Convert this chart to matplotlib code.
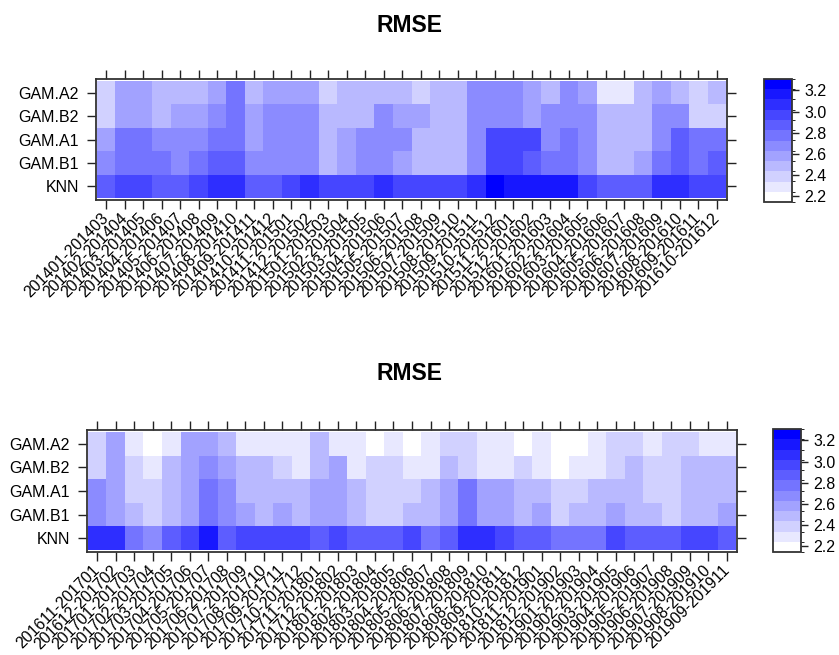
import numpy as np
import matplotlib
matplotlib.use("Agg")
import matplotlib.pyplot as plt
import matplotlib as mpl
from matplotlib.colors import ListedColormap, BoundaryNorm

plt.rcParams['font.family'] = ['Liberation Sans', 'DejaVu Sans']

# ---------------- data ----------------
row_names = ['KNN', 'GAM.B1', 'GAM.A1', 'GAM.B2', 'GAM.A2']  # bottom -> top

top_labels = ["201401-201403", "201402-201404", "201403-201405", "201404-201406",
              "201405-201407", "201406-201408", "201407-201409", "201408-201410",
              "201409-201411", "201410-201412", "201411-201501", "201412-201502",
              "201501-201503", "201502-201504", "201503-201505", "201504-201506",
              "201505-201507", "201506-201508", "201507-201509", "201508-201510",
              "201509-201511", "201510-201512", "201511-201601", "201512-201602",
              "201601-201603", "201602-201604", "201603-201605", "201604-201606",
              "201605-201607", "201606-201608", "201607-201609", "201608-201610",
              "201609-201611", "201610-201612"]

top_gam_a2 = [2.39, 2.58, 2.58, 2.48, 2.48, 2.48, 2.58, 2.78, 2.48, 2.58,
              2.58, 2.58, 2.39, 2.48, 2.48, 2.48, 2.48, 2.39, 2.48, 2.48,
              2.68, 2.68, 2.68, 2.58, 2.48, 2.68, 2.58, 2.29, 2.29, 2.48,
              2.58, 2.48, 2.39, 2.48]
top_gam_b2 = [2.39, 2.58, 2.58, 2.48, 2.58, 2.58, 2.68, 2.78, 2.58, 2.68,
              2.68, 2.68, 2.48, 2.48, 2.48, 2.68, 2.58, 2.58, 2.48, 2.48,
              2.68, 2.68, 2.68, 2.58, 2.68, 2.68, 2.68, 2.48, 2.48, 2.48,
              2.68, 2.68, 2.39, 2.39]
top_gam_a1 = [2.58, 2.78, 2.78, 2.68, 2.68, 2.68, 2.78, 2.78, 2.58, 2.68,
              2.68, 2.68, 2.48, 2.58, 2.68, 2.68, 2.68, 2.48, 2.48, 2.48,
              2.68, 2.97, 2.97, 2.97, 2.68, 2.78, 2.68, 2.48, 2.48, 2.48,
              2.68, 2.87, 2.78, 2.78]
top_gam_b1 = [2.68, 2.78, 2.78, 2.78, 2.68, 2.78, 2.87, 2.87, 2.68, 2.68,
              2.68, 2.68, 2.48, 2.58, 2.68, 2.68, 2.58, 2.48, 2.48, 2.48,
              2.68, 2.97, 2.97, 2.87, 2.78, 2.78, 2.68, 2.48, 2.48, 2.58,
              2.78, 2.87, 2.78, 2.87]
top_knn = [2.87, 2.97, 2.97, 2.87, 2.87, 2.97, 3.07, 3.07, 2.87, 2.87,
           2.97, 3.07, 2.97, 2.97, 2.97, 3.07, 2.97, 2.97, 2.97, 2.97,
           3.07, 3.26, 3.16, 3.16, 3.16, 3.16, 2.97, 2.87, 2.87, 2.87,
           3.07, 3.07, 2.97, 2.97]

bot_labels = ["201611-201701", "201612-201702", "201701-201703", "201702-201704",
              "201703-201705", "201704-201706", "201705-201707", "201706-201708",
              "201707-201709", "201708-201710", "201709-201711", "201710-201712",
              "201711-201801", "201712-201802", "201801-201803", "201802-201804",
              "201803-201805", "201804-201806", "201805-201807", "201806-201808",
              "201807-201809", "201808-201810", "201809-201811", "201810-201812",
              "201811-201901", "201812-201902", "201901-201903", "201902-201904",
              "201903-201905", "201904-201906", "201905-201907", "201906-201908",
              "201907-201909", "201908-201910", "201909-201911"]

bot_gam_a2 = [2.39, 2.58, 2.29, 2.19, 2.29, 2.58, 2.58, 2.48, 2.29, 2.29,
              2.29, 2.29, 2.48, 2.29, 2.29, 2.19, 2.29, 2.19, 2.29, 2.39,
              2.39, 2.29, 2.29, 2.19, 2.29, 2.19, 2.19, 2.29, 2.39, 2.39,
              2.29, 2.39, 2.39, 2.29, 2.29]
bot_gam_b2 = [2.39, 2.58, 2.39, 2.29, 2.48, 2.58, 2.68, 2.58, 2.48, 2.48,
              2.39, 2.29, 2.48, 2.58, 2.29, 2.39, 2.39, 2.29, 2.29, 2.48,
              2.39, 2.29, 2.29, 2.39, 2.29, 2.19, 2.29, 2.29, 2.39, 2.48,
              2.39, 2.39, 2.48, 2.48, 2.48]
bot_gam_a1 = [2.68, 2.58, 2.39, 2.39, 2.48, 2.58, 2.78, 2.68, 2.48, 2.48,
              2.48, 2.48, 2.58, 2.58, 2.48, 2.39, 2.39, 2.39, 2.48, 2.58,
              2.78, 2.58, 2.58, 2.48, 2.48, 2.39, 2.39, 2.48, 2.48, 2.48,
              2.39, 2.39, 2.48, 2.48, 2.48]
bot_gam_b1 = [2.68, 2.58, 2.48, 2.39, 2.48, 2.58, 2.78, 2.68, 2.58, 2.48,
              2.58, 2.48, 2.58, 2.58, 2.48, 2.39, 2.39, 2.48, 2.48, 2.58,
              2.78, 2.58, 2.58, 2.48, 2.58, 2.39, 2.48, 2.48, 2.58, 2.48,
              2.48, 2.39, 2.48, 2.48, 2.58]
bot_knn = [3.07, 3.07, 2.78, 2.68, 2.87, 2.97, 3.16, 2.87, 2.97, 2.97,
           2.97, 2.97, 2.87, 2.97, 2.87, 2.87, 2.87, 2.97, 2.78, 2.87,
           3.07, 3.07, 2.97, 2.87, 2.87, 2.78, 2.78, 2.78, 2.97, 2.87,
           2.87, 2.87, 2.97, 2.97, 2.87]

cbar_ticks = [2.2, 2.4, 2.6, 2.8, 3.0, 3.2]
level_bounds = np.linspace(2.146, 3.308, 13)

# ---------------- styling ----------------
n_col = len(level_bounds) - 1
colors = [(1 - i / (n_col - 1), 1 - i / (n_col - 1), 1.0) for i in range(n_col)]
cmap = ListedColormap(colors)
norm = BoundaryNorm(level_bounds, cmap.N)

W, H = 839, 655
fig = plt.figure(figsize=(W / 100, H / 100), dpi=100)
FS = 11.5
FRAME = '#333333'


def px_axes(x0, y0, x1, y1):
    return fig.add_axes([x0 / W, 1 - y1 / H, (x1 - x0) / W, (y1 - y0) / H])


def draw_panel(ax, cax, labels, rows, title, title_y):
    Z = np.array(rows)
    n = Z.shape[1]
    ax.pcolormesh(np.arange(n + 1) + 0.5, np.arange(len(row_names) + 1) + 0.5, Z,
                  cmap=cmap, norm=norm, shading='flat')
    ax.set_xlim(0.45, n + 0.55)
    ax.set_ylim(0.42, len(row_names) + 0.58)
    ax.set_xticks(np.arange(1, n + 1))
    ax.set_xticklabels(labels, rotation=45, ha='right', va='center',
                       rotation_mode='anchor', fontsize=FS)
    ax.set_yticks(np.arange(1, len(row_names) + 1))
    ax.set_yticklabels(row_names, fontsize=FS)
    ax.tick_params(axis='both', which='both', direction='out', length=6.5,
                   width=1.0, color='#222222', top=True, right=True,
                   labeltop=False, labelright=False)
    ax.tick_params(axis='x', pad=5)
    ax.tick_params(axis='y', pad=6)
    for s in ax.spines.values():
        s.set_color(FRAME)
        s.set_linewidth(1.3)

    cb = mpl.colorbar.ColorbarBase(cax, cmap=cmap, norm=norm,
                                   boundaries=level_bounds, ticks=cbar_ticks,
                                   orientation='vertical')
    cb.ax.set_yticklabels(['%.1f' % t for t in cbar_ticks], fontsize=FS)
    cb.ax.tick_params(direction='out', length=5, width=1.0, pad=4, color='#222222')
    cb.outline.set_edgecolor(FRAME)
    cb.outline.set_linewidth(1.3)

    fig.text(409 / W, 1 - title_y / H, title, ha='center', va='center',
             fontsize=16.5, fontweight='bold')


ax1 = px_axes(96, 79, 727, 200)
cax1 = px_axes(764, 79, 792, 202)
draw_panel(ax1, cax1, top_labels,
           [top_knn, top_gam_b1, top_gam_a1, top_gam_b2, top_gam_a2], 'RMSE', 25)

ax2 = px_axes(87, 430, 737, 552)
cax2 = px_axes(773, 429, 801, 552)
draw_panel(ax2, cax2, bot_labels,
           [bot_knn, bot_gam_b1, bot_gam_a1, bot_gam_b2, bot_gam_a2], 'RMSE', 374)

fig.savefig('out.png', dpi=100)
